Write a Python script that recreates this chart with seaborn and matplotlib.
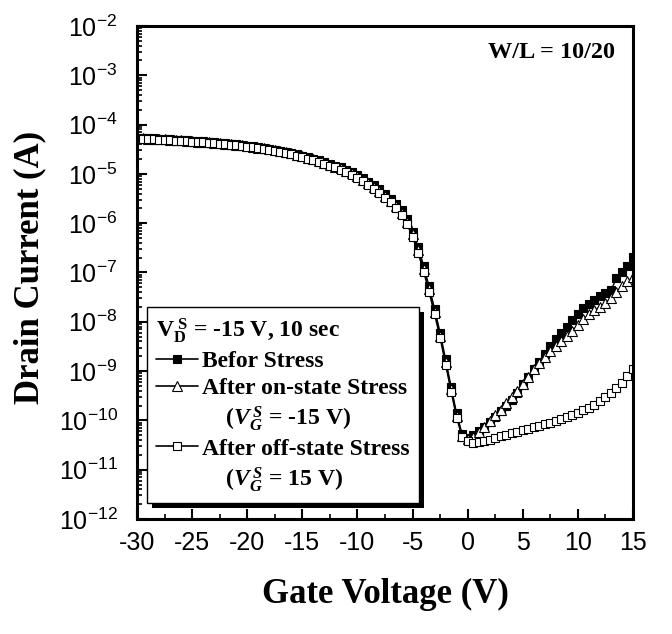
import numpy as np
import matplotlib
matplotlib.use('Agg')
import matplotlib.pyplot as plt
import seaborn as sns
from matplotlib.lines import Line2D
from matplotlib.patches import Rectangle
from matplotlib.ticker import FixedLocator, FixedFormatter, LogLocator, MultipleLocator, NullFormatter

# gate voltage sweep (V), 0.5 V step
gate_voltage = np.arange(-30, 15.01, 0.5)

# log10 of drain current (A)
before_log = [
    -4.27, -4.27, -4.28, -4.28, -4.29, -4.29, -4.30, -4.31, -4.31, -4.32,
    -4.33, -4.34, -4.34, -4.35, -4.36, -4.37, -4.38, -4.39, -4.40, -4.41,
    -4.43, -4.44, -4.46, -4.47, -4.49, -4.51, -4.53, -4.55, -4.57, -4.60,
    -4.63, -4.66, -4.69, -4.72, -4.75, -4.79, -4.83, -4.87, -4.92, -4.97,
    -5.02, -5.09, -5.16, -5.23, -5.31, -5.40, -5.50, -5.61, -5.74, -5.92,
    -6.17, -6.48, -6.86, -7.28, -7.74, -8.22, -8.76, -9.32, -9.86, -10.28,
    -10.36, -10.30, -10.22, -10.13, -10.03, -9.93, -9.81, -9.70, -9.58, -9.45,
    -9.27, -9.12, -8.96, -8.81, -8.65, -8.50, -8.34, -8.22, -8.10, -7.97,
    -7.85, -7.73, -7.63, -7.55, -7.48, -7.42, -7.36, -7.12, -7.00, -6.86,
    -6.68,
]
on_state_log = [
    -4.28, -4.28, -4.29, -4.29, -4.30, -4.30, -4.31, -4.32, -4.32, -4.33,
    -4.34, -4.35, -4.35, -4.36, -4.37, -4.38, -4.39, -4.40, -4.41, -4.42,
    -4.44, -4.45, -4.47, -4.48, -4.50, -4.52, -4.54, -4.56, -4.58, -4.61,
    -4.64, -4.67, -4.70, -4.74, -4.77, -4.81, -4.85, -4.89, -4.94, -4.99,
    -5.05, -5.12, -5.19, -5.26, -5.35, -5.44, -5.54, -5.66, -5.79, -5.97,
    -6.22, -6.54, -6.92, -7.34, -7.80, -8.28, -8.82, -9.37, -9.91, -10.31,
    -10.38, -10.33, -10.24, -10.13, -10.02, -9.90, -9.78, -9.65, -9.52, -9.40,
    -9.26, -9.12, -8.96, -8.83, -8.71, -8.60, -8.49, -8.39, -8.29, -8.18,
    -8.07, -7.95, -7.85, -7.77, -7.69, -7.62, -7.52, -7.40, -7.28, -7.18,
    -7.10,
]
off_state_log = [
    -4.29, -4.29, -4.30, -4.30, -4.31, -4.31, -4.32, -4.33, -4.33, -4.34,
    -4.35, -4.36, -4.36, -4.37, -4.38, -4.39, -4.40, -4.41, -4.42, -4.43,
    -4.45, -4.46, -4.48, -4.49, -4.51, -4.53, -4.55, -4.58, -4.60, -4.63,
    -4.66, -4.69, -4.72, -4.76, -4.79, -4.83, -4.87, -4.92, -4.97, -5.02,
    -5.08, -5.15, -5.22, -5.30, -5.39, -5.48, -5.58, -5.70, -5.84, -6.02,
    -6.28, -6.60, -6.98, -7.40, -7.85, -8.33, -8.87, -9.42, -9.95, -10.34,
    -10.42, -10.45, -10.44, -10.42, -10.39, -10.35, -10.32, -10.29, -10.26, -10.23,
    -10.20, -10.17, -10.14, -10.11, -10.08, -10.05, -10.02, -9.98, -9.94, -9.89,
    -9.84, -9.79, -9.74, -9.68, -9.61, -9.53, -9.45, -9.35, -9.24, -9.10,
    -8.95,
]

x_ticks = [-30, -25, -20, -15, -10, -5, 0, 5, 10, 15]
y_exponents = [-12, -11, -10, -9, -8, -7, -6, -5, -4, -3, -2]

series_labels = ['Befor Stress', 'After on-state Stress', 'After off-state Stress']
stress_notes = [r'($V_G^{\,S}$ = -15 V)', r'($V_G^{\,S}$ = 15 V)']
legend_title = r'V$_{\rm D}^{\rm \ S}$ = -15 V, 10 sec'
ratio_text = 'W/L = 10/20'

sns.set_style('ticks')
plt.rcParams['font.family'] = ['Liberation Serif', 'DejaVu Serif']
plt.rcParams['font.weight'] = 'bold'
plt.rcParams['mathtext.fontset'] = 'custom'
plt.rcParams['mathtext.rm'] = 'Liberation Serif:bold'
plt.rcParams['mathtext.it'] = 'Liberation Serif:italic:bold'
plt.rcParams['mathtext.bf'] = 'Liberation Serif:bold'
plt.rcParams['mathtext.sf'] = 'Liberation Sans:normal'
for key in ['text.color', 'axes.labelcolor', 'xtick.color', 'ytick.color', 'axes.edgecolor']:
    plt.rcParams[key] = 'black'

fig = plt.figure(figsize=(6.72, 6.34), dpi=100)
ax = fig.add_axes([137 / 672, 1 - 519 / 634, 496 / 672, 493 / 634])

styles = [
    dict(marker='s', ms=5.5, mfc='black', mec='black'),
    dict(marker='^', ms=6.5, mfc='white', mec='black'),
    dict(marker='s', ms=5.5, mfc='white', mec='black'),
]
for vals, st in zip([before_log, on_state_log, off_state_log], styles):
    sns.lineplot(x=gate_voltage, y=10.0 ** np.array(vals), ax=ax, color='black',
                 lw=1.0, mew=0.8, legend=False, **st)

ax.set_yscale('log')
ax.set_xlim(-30, 15)
ax.set_ylim(1e-12, 1e-2)

ax.xaxis.set_major_locator(FixedLocator(x_ticks))
ax.xaxis.set_minor_locator(MultipleLocator(2.5))
ax.set_xticklabels([str(t) for t in x_ticks], family='Liberation Sans',
                   fontweight='normal', fontsize=18)

ax.yaxis.set_major_locator(FixedLocator([10.0 ** e for e in y_exponents]))
ax.yaxis.set_major_formatter(FixedFormatter(
    [r'$\mathsf{10^{%d}}$' % e for e in y_exponents]))
ax.yaxis.set_minor_locator(LogLocator(base=10, subs=np.arange(2, 10), numticks=50))
ax.yaxis.set_minor_formatter(NullFormatter())
for lab in ax.get_yticklabels():
    lab.set_fontsize(18)
    lab.set_fontweight('normal')

ax.tick_params(which='major', direction='in', length=7, width=1.5,
               top=False, right=False)
ax.tick_params(axis='x', which='major', pad=9)
ax.tick_params(axis='y', which='major', pad=14)
ax.tick_params(which='minor', direction='in', length=3.5, width=1.2,
               top=False, right=False)
for sp in ax.spines.values():
    sp.set_linewidth(2.2)
    sp.set_color('black')

ax.set_xlabel('Gate Voltage (V)', fontsize=25, fontweight='bold')
ax.set_ylabel('Drain Current (A)', fontsize=25, fontweight='bold')
ax.xaxis.set_label_coords(0.5, -0.154)
ax.yaxis.set_label_coords(-0.216, 0.51)
ax.xaxis.label.set_va('center')
ax.yaxis.label.set_va('center')

ax.text(0.835, 0.947, ratio_text, transform=ax.transAxes, ha='center',
        va='center', fontsize=17.5, fontweight='bold')

blank = Line2D([], [], linestyle='none', marker='none')
handles = [
    Line2D([], [], color='black', lw=1.2, mew=0.8, **styles[0]),
    Line2D([], [], color='black', lw=1.2, mew=0.8, **styles[1]),
    blank,
    Line2D([], [], color='black', lw=1.2, mew=0.8, **styles[2]),
    blank,
]
labels = [series_labels[0], series_labels[1], '    ' + stress_notes[0],
          series_labels[2], '    ' + stress_notes[1]]
leg = ax.legend(handles, labels, title=legend_title, alignment='left',
                loc='upper left', bbox_to_anchor=(0.020, 0.430), borderaxespad=0,
                fontsize=17, title_fontsize=17, frameon=True, fancybox=False,
                framealpha=1, edgecolor='black', handlelength=1.75,
                handletextpad=0.2, labelspacing=0.22, borderpad=0.4)
leg.get_frame().set_linewidth(1.0)
leg.get_title().set_fontweight('bold')

# solid drop shadow behind the legend
fig.canvas.draw()
bb = leg.get_window_extent()
inv = ax.transAxes.inverted()
(x0, y0), (x1, y1) = inv.transform([[bb.x0 + 5, bb.y0 - 5], [bb.x1 + 5, bb.y1 - 5]])
ax.add_patch(Rectangle((x0, y0), x1 - x0, y1 - y0, transform=ax.transAxes,
                       facecolor='black', edgecolor='none', zorder=4.9, clip_on=False))

fig.savefig('out.png', dpi=100)
